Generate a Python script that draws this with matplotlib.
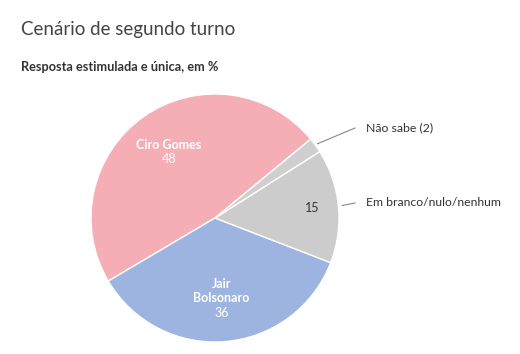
import numpy as np
import matplotlib.pyplot as plt

# Pie data (percent)
labels = ['Ciro Gomes', 'Jair\nBolsonaro', 'Em branco/nulo/nenhum', 'Não sabe (2)']
values = [48, 36, 15, 2]
colors = ['#f5adb6', '#9db3e0', '#cccccc', '#cfcfcf']

plt.rcParams['font.family'] = ['Lato', 'DejaVu Sans']

W, H = 520, 354
fig = plt.figure(figsize=(W / 100, H / 100), dpi=100)
ax = fig.add_axes([0, 0, 1, 1])
ax.axis('off')

cx, cy, R = 215, H - 218, 124
wedges, _ = ax.pie(values, colors=colors, startangle=39.5, counterclock=True,
                   center=(cx, cy), radius=R,
                   wedgeprops=dict(edgecolor='white', linewidth=1))
ax.set_xlim(0, W)
ax.set_ylim(0, H)

def mid(w):
    return np.deg2rad((w.theta1 + w.theta2) / 2)

# labels inside the two big slices, block centred on the slice
step = 14.5
for i in (0, 1):
    a = mid(wedges[i])
    x, y = cx + 0.65 * R * np.cos(a), cy + 0.65 * R * np.sin(a)
    lines = labels[i].split('\n')
    n = len(lines) + 1
    top = y + (n - 1) * step / 2
    for k, s in enumerate(lines):
        ax.text(x, top - k * step, s, color='white', fontsize=9, fontweight='bold',
                ha='center', va='center')
    ax.text(x, top - len(lines) * step, str(values[i]), color='white', fontsize=9,
            ha='center', va='center')

# value inside the blank/null slice
a = mid(wedges[2])
ax.text(cx + 0.79 * R * np.cos(a), cy + 0.79 * R * np.sin(a), str(values[2]),
        color='#333333', fontsize=9, ha='center', va='center')

# outside labels with connectors
for i, (r0, ty) in zip((2, 3), ((1.03, H - 203), (1.02, H - 128))):
    a = mid(wedges[i])
    x0, y0 = cx + r0 * R * np.cos(a), cy + r0 * R * np.sin(a)
    ax.plot([x0, 355], [y0, ty], color='#888888', lw=0.8)
    ax.text(366, ty, labels[i], color='#333333', fontsize=8.8, ha='left', va='center')

fig.text(21 / W, 1 - 30 / H, 'Cenário de segundo turno', fontsize=13.5,
         color='#444444', ha='left', va='center')
fig.text(21 / W, 1 - 67 / H, 'Resposta estimulada e única, em %', fontsize=9.2,
         fontweight='bold', color='#333333', ha='left', va='center')

plt.savefig('out.png', dpi=100)
